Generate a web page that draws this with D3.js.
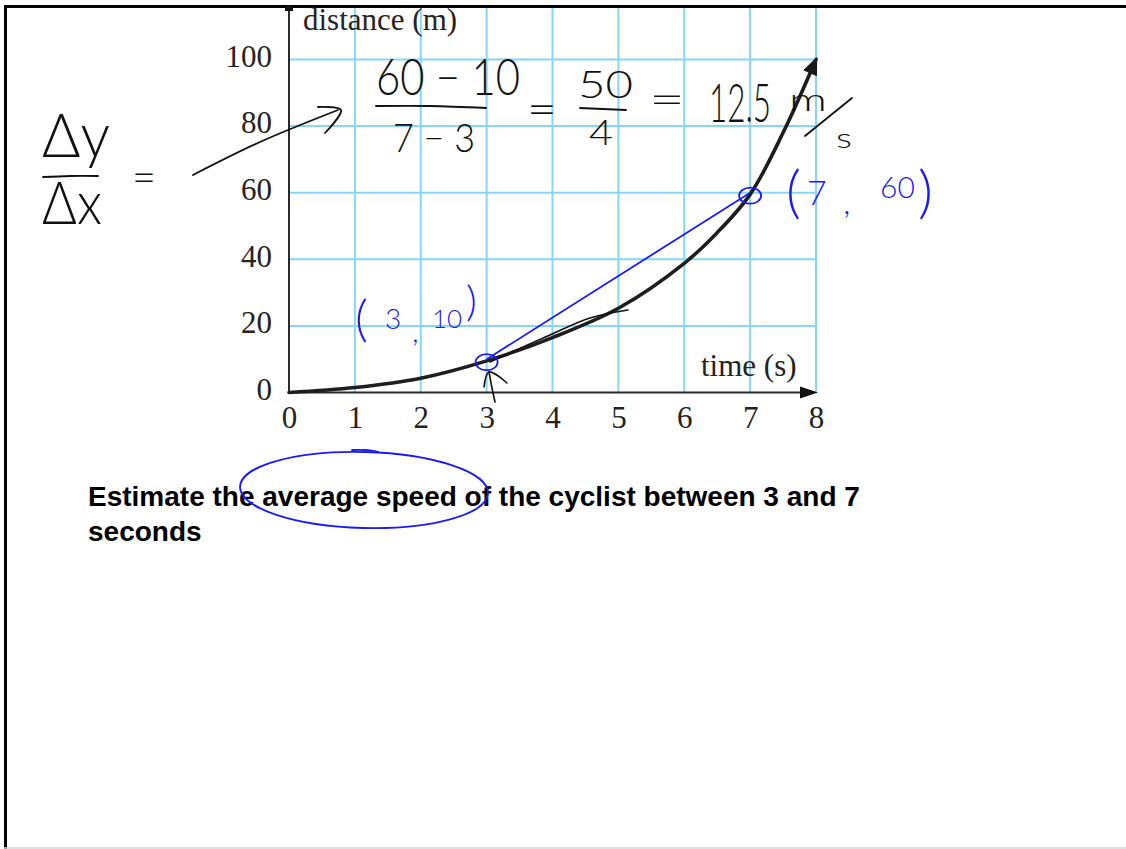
<!DOCTYPE html>
<html>
<head>
<meta charset="utf-8">
<script src="https://cdn.jsdelivr.net/npm/d3@7"></script>
<style>
  html, body { margin: 0; padding: 0; background: #fff; }
  svg { display: block; }
  .ink { font-family: Lato, "Open Sans", sans-serif; font-weight: 300; }
</style>
</head>
<body>
<svg id="chart" width="1126" height="849"></svg>
<script>
// Distance–time data for the cyclist
const times = [0, 1, 2, 3, 4, 5, 6, 6.5, 7, 7.5, 8];
const distances = [0, 1.5, 4.3, 9.5, 16.5, 25.3, 38.8, 48, 59.5, 78, 100];

// Axis ticks
const xTicks = [0, 1, 2, 3, 4, 5, 6, 7, 8];
const yTicks = [0, 20, 40, 60, 80, 100];

// The two readings used for the average speed
const chordTimes = [3, 7];
const chordDistances = [10, 60];

const svg = d3.select("#chart");
const W = 1126, H = 849;

const x = d3.scaleLinear().domain([0, 8]).range([289, 816]);
const y = d3.scaleLinear().domain([0, 100]).range([392.5, 59.5]);

const gridColor = "#86d6f7";
const axisColor = "#2b2b2b";
const pen = "#111";
const bluePen = "#1b1bf5";

// Page frame
svg.append("line").attr("x1", 4).attr("x2", W).attr("y1", 6.5).attr("y2", 6.5)
  .attr("stroke", "#000").attr("stroke-width", 3);
svg.append("line").attr("x1", 5.5).attr("x2", 5.5).attr("y1", 5).attr("y2", H)
  .attr("stroke", "#000").attr("stroke-width", 3);
svg.append("line").attr("x1", 4).attr("x2", W).attr("y1", 848).attr("y2", 848)
  .attr("stroke", "#d4d4d4").attr("stroke-width", 1.5);

// Grid
const grid = svg.append("g");
grid.selectAll("line.v").data(xTicks.slice(1)).join("line")
  .attr("x1", d => x(d)).attr("x2", d => x(d))
  .attr("y1", y(0)).attr("y2", 8)
  .attr("stroke", gridColor).attr("stroke-width", 2);
grid.selectAll("line.h").data(yTicks.slice(1)).join("line")
  .attr("x1", x(0)).attr("x2", x(8))
  .attr("y1", d => y(d)).attr("y2", d => y(d))
  .attr("stroke", gridColor).attr("stroke-width", 2);

// Axes lines with arrowheads
svg.append("line").attr("x1", x(0)).attr("x2", x(0)).attr("y1", y(0)).attr("y2", 9)
  .attr("stroke", axisColor).attr("stroke-width", 2);
svg.append("rect").attr("x", x(0) - 4).attr("y", 6).attr("width", 8).attr("height", 5)
  .attr("fill", "#111");
svg.append("line").attr("x1", x(0)).attr("x2", x(8) - 8).attr("y1", y(0)).attr("y2", y(0))
  .attr("stroke", axisColor).attr("stroke-width", 2);
svg.append("path")
  .attr("d", `M${x(8) + 2},${y(0)} L${x(8) - 16},${y(0) - 6} L${x(8) - 16},${y(0) + 6} Z`)
  .attr("fill", "#111");

// Tick labels via axis generators
const serif = '"Liberation Serif", "Times New Roman", serif';
const xAxis = svg.append("g").attr("transform", `translate(0,${y(0)})`)
  .call(d3.axisBottom(x).tickValues(xTicks).tickSize(0).tickPadding(17).tickFormat(d3.format("d")));
const yAxis = svg.append("g").attr("transform", `translate(${x(0)},0)`)
  .call(d3.axisLeft(y).tickValues(yTicks).tickSize(0).tickPadding(17).tickFormat(d3.format("d")));
[xAxis, yAxis].forEach(a => {
  a.select(".domain").remove();
  a.selectAll("text").attr("font-family", serif).attr("font-size", 31).attr("fill", "#262220");
});
yAxis.selectAll("text").attr("dy", "0.22em");
xAxis.selectAll("text").attr("dy", "0.6em");

svg.append("text").attr("x", 303).attr("y", 30)
  .attr("font-family", serif).attr("font-size", 31).attr("fill", "#262220")
  .text("distance (m)");
svg.append("text").attr("x", 701).attr("y", 376)
  .attr("font-family", serif).attr("font-size", 31).attr("fill", "#262220")
  .text("time (s)");

// Distance curve with arrowhead
const defs = svg.append("defs");
defs.append("marker").attr("id", "curveHead")
  .attr("viewBox", "0 0 12 10").attr("refX", 10).attr("refY", 5)
  .attr("markerUnits", "userSpaceOnUse").attr("markerWidth", 20).attr("markerHeight", 15)
  .attr("orient", "auto")
  .append("path").attr("d", "M0,0 L12,5 L0,10 Z").attr("fill", "#1a1a1a");

const curvePts = times.map((t, i) => [t, distances[i]]);
svg.append("path")
  .datum(curvePts)
  .attr("d", d3.line().x(d => x(d[0])).y(d => y(d[1])).curve(d3.curveCatmullRom.alpha(0.5)))
  .attr("fill", "none").attr("stroke", "#1e1e1e").attr("stroke-width", 3.6)
  .attr("stroke-linecap", "round")
  .attr("marker-end", "url(#curveHead)");

// Handwritten ink helpers
const inkLine = d3.line().curve(d3.curveCatmullRom);
function stroke(pts, color = pen, w = 1.8) {
  svg.append("path").attr("d", inkLine(pts)).attr("fill", "none")
    .attr("stroke", color).attr("stroke-width", w)
    .attr("stroke-linecap", "round").attr("stroke-linejoin", "round");
}
// Writes a word at (px, py) squeezed horizontally to width len
function ink(str, px, py, size, len, color = pen) {
  const t = svg.append("text").attr("class", "ink")
    .attr("font-size", size).attr("fill", color).text(str);
  const natural = t.node().getComputedTextLength() || len;
  const sx = len ? len / natural : 1;
  t.attr("transform", `translate(${px},${py}) scale(${sx},1)`);
  return t;
}

ink("Δy", 42, 157, 62, 68);
stroke([[43, 177], [70, 176], [98, 176]]);
ink("Δx", 42, 224, 60, 60);
ink("=", 132, 192, 44, 24);
stroke([[193, 175], [260, 142], [338, 110]]);
stroke([[318, 107], [341, 110], [325, 133]]);

ink("60 − 10", 376, 95, 52, 144);
stroke([[376, 106], [430, 106], [486, 108]]);
ink("7 − 3", 393, 152, 40, 82);
ink("=", 527, 125, 46, 30);
ink("50", 578, 98, 38, 55);
stroke([[580, 108], [626, 110]]);
ink("4", 589, 145, 36, 24);
ink("=", 649, 115, 44, 36);
ink("12.5", 709, 122, 54, 62);
ink("m", 789, 111, 32, 38);
stroke([[805, 136], [852, 98]]);
ink("s", 836, 148, 28, 16);

// Ink near the point (3, 10)
stroke([[490, 362], [550, 335], [590, 318], [628, 310]], pen, 1.5);
stroke([[495, 402], [492, 388], [489, 372]], pen, 1.6);
stroke([[484, 387], [489, 372], [507, 383]], pen, 1.6);

// Blue ink: chord between the two readings and the circled points
const chord = chordTimes.map((t, i) => [x(t), y(chordDistances[i])]);
svg.append("path")
  .attr("d", d3.line()(chord))
  .attr("fill", "none").attr("stroke", bluePen).attr("stroke-width", 1.8);
svg.selectAll("ellipse.pt").data(chord).join("ellipse")
  .attr("cx", d => d[0]).attr("cy", d => d[1] + 3)
  .attr("rx", 11).attr("ry", 8)
  .attr("fill", "none").attr("stroke", bluePen).attr("stroke-width", 1.8);

const lbl1 = svg.append("text").attr("class", "ink").attr("fill", bluePen);
lbl1.append("tspan").attr("x", 355).attr("y", 336).attr("font-size", 50).text("(");
lbl1.append("tspan").attr("x", 385).attr("y", 329).attr("font-size", 28).text("3");
lbl1.append("tspan").attr("x", 412).attr("y", 342).attr("font-size", 30).text(",");
lbl1.append("tspan").attr("x", 432).attr("y", 328).attr("font-size", 26).text("10");
lbl1.append("tspan").attr("x", 466).attr("y", 316).attr("font-size", 42).text(")");

const lbl2 = svg.append("text").attr("class", "ink").attr("fill", bluePen);
lbl2.append("tspan").attr("x", 786).attr("y", 212).attr("font-size", 58).text("(");
lbl2.append("tspan").attr("x", 807).attr("y", 205).attr("font-size", 34).text("7");
lbl2.append("tspan").attr("x", 843).attr("y", 214).attr("font-size", 34).text(",");
lbl2.append("tspan").attr("x", 880).attr("y", 198).attr("font-size", 30).text("60");
lbl2.append("tspan").attr("x", 918).attr("y", 212).attr("font-size", 58).text(")");

// Question text
const q = svg.append("text").attr("font-family", '"Liberation Sans", Arial, sans-serif')
  .attr("font-weight", "bold").attr("font-size", 28).attr("fill", "#000");
q.append("tspan").attr("x", 88).attr("y", 506).text("Estimate the average speed of the cyclist between 3 and 7");
q.append("tspan").attr("x", 88).attr("y", 541).text("seconds");

// Blue loop round "average speed of"
svg.append("ellipse").attr("cx", 364).attr("cy", 490).attr("rx", 124).attr("ry", 38)
  .attr("transform", "rotate(1.5 364 490)")
  .attr("fill", "none").attr("stroke", bluePen).attr("stroke-width", 1.8);
stroke([[352, 450], [366, 450], [378, 452]], bluePen, 1.8);
</script>
</body>
</html>
